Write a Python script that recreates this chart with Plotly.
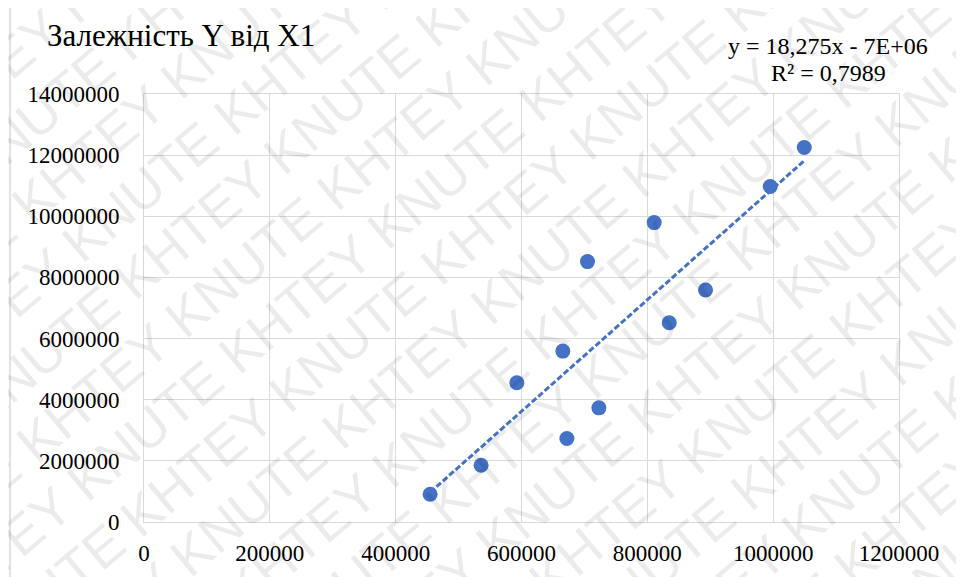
import numpy as np
import plotly.graph_objects as go

# Data
x1_values = [454750, 535800, 592600, 665700, 672100, 723000,
             704900, 810900, 834800, 892500, 995400, 1049400]
y_values = [907000, 1857000, 4553000, 5591000, 2732000, 3734000,
            8517000, 9794000, 6519000, 7590000, 10973000, 12251000]

x_ticks = [0, 200000, 400000, 600000, 800000, 1000000, 1200000]
y_ticks = [0, 2000000, 4000000, 6000000, 8000000, 10000000, 12000000, 14000000]

title_text = "Залежність Y від X1"
equation_text = "y = 18,275x - 7E+06"
r2_text = "R² = 0,7989"
watermark_words = ["KNUTE", "KHTEY"]

# Layout in the reference frame (pixels); the page body adds an 8px offset
OFF = 8
W, H = 964, 577
ML, MR, MT, MB = 144, 65, 94, 55
PW, PH = W - ML - MR, H - MT - MB


def px(xp):
    return (xp - ML) / PW


def py(yp):
    return (H - MB - yp) / PH


blue = "#4472C4"
grid = "#d9d9d9"
serif = "Liberation Serif"

# Linear trendline (least squares) through the data
coef = np.polyfit(x1_values, y_values, 1)
xt = np.array([min(x1_values), max(x1_values)])
yt = np.polyval(coef, xt)

fig = go.Figure()
fig.add_trace(go.Scatter(x=xt, y=yt, mode="lines",
                         line=dict(color=blue, width=3, dash="6px,2.5px"),
                         hoverinfo="skip", showlegend=False))
fig.add_trace(go.Scatter(x=x1_values, y=y_values, mode="markers",
                         marker=dict(color=blue, size=15),
                         showlegend=False))

annotations = []
# Watermark rows (diagonal, rising at 40 degrees)
ang = np.deg2rad(40)
u = np.array([np.cos(ang), -np.sin(ang)])      # along text
n = np.array([np.sin(ang), np.cos(ang)])       # next row
wm_size = 54
em = {"K": 0.667, "N": 0.722, "U": 0.722, "T": 0.611, "E": 0.667,
      "H": 0.722, "Y": 0.667, " ": 0.278}
pairs = 6
row_text = " ".join(watermark_words * pairs)
row_w = sum(em[c] for c in row_text) * wm_size
period = sum(em[c] for c in "KNUTE KHTEY ") * wm_size
first_w = sum(em[c] for c in "KNUTE ") * wm_size
row_gap = 62
along_shift = 17 - first_w
S0 = np.array([270.8, 162.4])
C_img = np.array([482.0, 288.0])
for k in range(-8, 16):
    S = S0 + k * row_gap * n + k * along_shift * u
    a = float((S - C_img) @ u)
    m = np.floor((a + 900) / period)
    S = S - m * period * u
    C = S + u * row_w / 2
    annotations.append(dict(
        x=px(C[0]), y=py(C[1]), xref="paper", yref="paper",
        text=row_text, showarrow=False, textangle=-40,
        font=dict(family="Liberation Sans", size=wm_size,
                  color="rgba(0,0,0,0.08)"),
        xanchor="center", yanchor="middle"))

annotations.append(dict(x=px(45), y=py(36), xref="paper", yref="paper",
                        text=title_text, showarrow=False,
                        xanchor="left", yanchor="middle",
                        font=dict(family=serif, size=31, color="#000000")))
annotations.append(dict(x=px(828), y=py(46), xref="paper", yref="paper",
                        text=equation_text, showarrow=False,
                        xanchor="center", yanchor="middle",
                        font=dict(family=serif, size=24, color="#000000")))
annotations.append(dict(x=px(828), y=py(73.5), xref="paper", yref="paper",
                        text=r2_text, showarrow=False,
                        xanchor="center", yanchor="middle",
                        font=dict(family=serif, size=24, color="#000000")))

fig.update_layout(
    width=W - OFF, height=H - OFF,
    margin=dict(l=ML - OFF, r=MR, t=MT - OFF, b=MB, pad=0),
    paper_bgcolor="white", plot_bgcolor="white",
    annotations=annotations,
    shapes=[dict(type="rect", xref="paper", yref="paper",
                 x0=px(10), x1=px(990), y0=py(4), y1=py(600),
                 line=dict(color=grid, width=1.5), layer="below")],
    xaxis=dict(range=[0, 1200000], tickmode="array", tickvals=x_ticks,
               ticktext=[str(v) for v in x_ticks],
               showgrid=True, gridcolor=grid, gridwidth=1,
               zeroline=False, showline=True, linecolor=grid, mirror=True,
               ticks="outside", ticklen=10, tickcolor="rgba(0,0,0,0)",
               tickfont=dict(family=serif, size=23, color="#000000")),
    yaxis=dict(range=[0, 14000000], tickmode="array", tickvals=y_ticks,
               ticktext=[str(v) for v in y_ticks],
               showgrid=True, gridcolor=grid, gridwidth=1,
               zeroline=False, showline=True, linecolor=grid, mirror=True,
               ticks="outside", ticklen=19, tickcolor="rgba(0,0,0,0)",
               tickfont=dict(family=serif, size=23, color="#000000")),
)

fig.write_html("out.html")
